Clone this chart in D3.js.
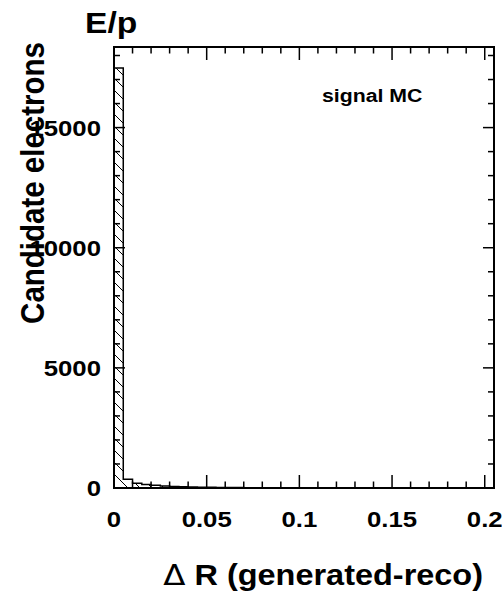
<!DOCTYPE html>
<html>
<head>
<meta charset="utf-8">
<script src="https://cdn.jsdelivr.net/npm/d3@7"></script>
<style>
  body { margin: 0; background: #fff; }
  text { font-family: "Liberation Sans", Arial, Helvetica, sans-serif; font-weight: bold; fill: #000; }
</style>
</head>
<body>
<div id="chart"></div>
<script>
// histogram of delta R between generated and reconstructed electron, bins of 0.005
var binEdges = d3.range(0, 0.2051, 0.005);
var binCounts = [17480, 360, 200, 150, 110, 80, 65, 50, 40, 35,
                 30, 25, 20, 18, 15, 12, 10, 9, 8, 7,
                 6, 5, 5, 4, 4, 3, 3, 3, 2, 2,
                 2, 2, 1, 1, 1, 1, 1, 1, 1, 0];
var xTickValues = [0, 0.05, 0.1, 0.15, 0.2];
var xTickLabels = ['0', '0.05', '0.1', '0.15', '0.2'];
var yTickValues = [0, 5000, 10000, 15000];
var yTickLabels = ['0', '5000', '10000', '15000'];

var width = 502;
var height = 593;
var margin = { left: 114, top: 47, right: 8, bottom: 105 };
var sx = 1.12; // text looks stretched sideways in the original

var svg = d3.select('#chart')
  .append('svg')
  .attr('width', width)
  .attr('height', height);

var x = d3.scaleLinear()
  .domain([0, 0.205])
  .range([margin.left, width - margin.right]);

var y = d3.scaleLinear()
  .domain([0, 1.05 * d3.max(binCounts)])
  .range([height - margin.bottom, margin.top]);

// hatch pattern, ROOT style 3005
var defs = svg.append('defs');
var hatch = defs.append('pattern')
  .attr('id', 'hatch')
  .attr('patternUnits', 'userSpaceOnUse')
  .attr('width', 12)
  .attr('height', 12);
hatch.append('path')
  .attr('d', 'M0,0 L12,12 M-6,6 L6,18 M6,-6 L18,6')
  .attr('stroke', '#000')
  .attr('stroke-width', 1);

// step outline
var pts = [[binEdges[0], 0]];
binCounts.forEach(function(c, i) {
  pts.push([binEdges[i], c]);
  pts.push([binEdges[i + 1], c]);
});
pts.push([binEdges[binCounts.length], 0]);

var line = d3.line()
  .x(function(d) { return x(d[0]); })
  .y(function(d) { return y(d[1]); });

svg.append('path')
  .datum(pts)
  .attr('d', line)
  .attr('fill', 'url(#hatch)')
  .attr('stroke', 'none');

svg.append('path')
  .datum(pts)
  .attr('d', line)
  .attr('fill', 'none')
  .attr('stroke', '#000')
  .attr('stroke-width', 1.5);

// ticks
var xMinor = d3.range(0, 0.2051, 0.01);
var yMinor = d3.range(0, 18001, 1000);
var x0 = x.range()[0], x1 = x.range()[1];
var y0 = y.range()[0], y1 = y.range()[1];

function isMajor(v, step) {
  return Math.abs(v / step - Math.round(v / step)) < 1e-6;
}

var ticks = svg.append('g').attr('stroke', '#000').attr('stroke-width', 1.5);
xMinor.forEach(function(v) {
  var len = isMajor(v, 0.05) ? 13 : 6.5;
  ticks.append('line').attr('x1', x(v)).attr('x2', x(v)).attr('y1', y0).attr('y2', y0 - len);
  ticks.append('line').attr('x1', x(v)).attr('x2', x(v)).attr('y1', y1).attr('y2', y1 + len);
});
yMinor.forEach(function(v) {
  if (y(v) < y1) return;
  var len = isMajor(v, 5000) ? 11 : 6;
  ticks.append('line').attr('y1', y(v)).attr('y2', y(v)).attr('x1', x0).attr('x2', x0 + len);
  ticks.append('line').attr('y1', y(v)).attr('y2', y(v)).attr('x1', x1).attr('x2', x1 - len);
});

// frame
svg.append('rect')
  .attr('x', x0)
  .attr('y', y1)
  .attr('width', x1 - x0)
  .attr('height', y0 - y1)
  .attr('fill', 'none')
  .attr('stroke', '#000')
  .attr('stroke-width', 2);

function addText(px, py, str, size, anchor, rot) {
  var t = 'translate(' + px + ',' + py + ') scale(' + sx + ',1)';
  if (rot) t += ' rotate(' + rot + ')';
  return svg.append('text')
    .attr('transform', t)
    .attr('text-anchor', anchor)
    .style('font-size', size + 'px')
    .text(str);
}

xTickValues.forEach(function(v, i) {
  addText(x(v), 527, xTickLabels[i], 23, 'middle');
});
yTickValues.forEach(function(v, i) {
  addText(101, y(v) + 8.3, yTickLabels[i], 23, 'end');
});

var xTitle = addText(483, 585, '', 29, 'end');
xTitle.append('tspan').style('font-weight', 'normal').style('font-family', '"DejaVu Sans", sans-serif').text('\u0394');
xTitle.append('tspan').text(' R (generated-reco)');
addText(44, 42, 'Candidate electrons', 29.5, 'end', -90);
addText(85, 33, 'E/p', 30, 'start');
addText(322, 102, 'signal MC', 19, 'start');
</script>
</body>
</html>
